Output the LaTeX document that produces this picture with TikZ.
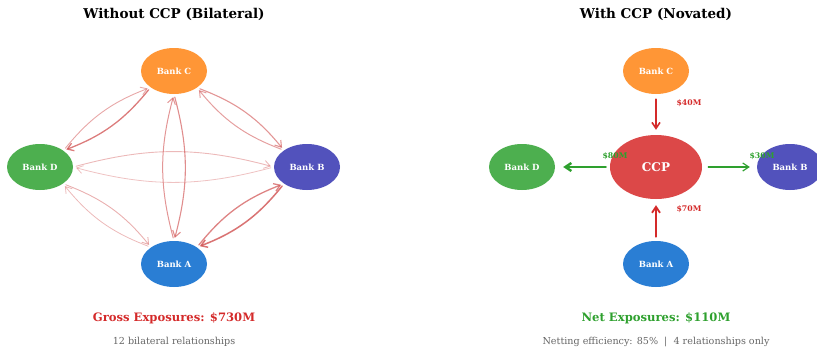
\documentclass[tikz,border=0pt]{standalone}
\usepackage{fontspec}
\setmainfont{DejaVu Serif}
\usetikzlibrary{arrows.meta,shapes.geometric}
\definecolor{bankA}{HTML}{2A7ED4}
\definecolor{bankB}{HTML}{5252BC}
\definecolor{bankC}{HTML}{FF9636}
\definecolor{bankD}{HTML}{4DAF4F}
\definecolor{ccpred}{HTML}{DC4848}
\definecolor{linkred}{HTML}{D05050}
\definecolor{flowred}{HTML}{D42A2A}
\definecolor{flowgreen}{HTML}{2EA02E}
\definecolor{note}{HTML}{666666}
\begin{document}
\begin{tikzpicture}[x=1pt,y=-1pt,>={Straight Barb[length=6pt,width=8pt]},line join=round,line cap=round,
		bank/.style={ellipse,minimum width=66pt,minimum height=46pt,inner sep=0pt,text=white,font=\fontsize{8.5}{10}\selectfont\bfseries},
		lens/.style={->,draw=linkred,bend left=15,shorten >=3pt,shorten <=3pt},
		amt/.style={font=\fontsize{7.8}{9}\selectfont\bfseries},
		head/.style={font=\fontsize{13.5}{16}\selectfont\bfseries},
		total/.style={font=\fontsize{11.6}{14}\selectfont\bfseries},
		sub/.style={text=note,font=\fontsize{9.6}{11}\selectfont}]
	\useasboundingbox (0,0) rectangle (817,348);
	% left: bilateral
	\node[head] (titleL) at (174,14) {Without CCP (Bilateral)};
	\foreach \n/\x/\y/\c in {C/174/71/bankC,D/40/167/bankD,B/307/167/bankB,A/174/264/bankA}
	\node[bank,fill=\c] (L\n) at (\x,\y) {Bank \n};
	\foreach \s/\a/\t/\b/\o/\w in {LC/215.6/LD/35.6/0.75/1.3,LD/35.6/LC/215.6/0.5/0.9,
		LC/324.2/LB/144.2/0.6/1.1,LB/144.2/LC/324.2/0.55/1.0,
		LD/0/LB/180/0.4/0.9,LB/180/LD/0/0.35/0.8,
		LC/270/LA/90/0.65/1.1,LA/90/LC/270/0.6/1.0,
		LD/324.1/LA/144.1/0.45/0.9,LA/144.1/LD/324.1/0.4/0.8,
		LB/216.1/LA/36.1/0.8/1.5,LA/36.1/LB/216.1/0.7/1.3}
	\draw[lens,draw opacity=\o,line width=\w] (\s.\a) to (\t.\b);
	\node[total,text=flowred] (grossL) at (174,318) {Gross Exposures: \$730M};
	\node[sub] (noteL) at (174,342) {12 bilateral relationships};
	% right: novated
	\node[head] (titleR) at (656,14) {With CCP (Novated)};
	\node[ellipse,fill=ccpred,minimum width=92pt,minimum height=64pt,inner sep=0pt,text=white,font=\fontsize{12}{14}\selectfont\bfseries] (ccp) at (656,167) {CCP};
	\foreach \n/\x/\y/\c in {C/656/71/bankC,D/522/167/bankD,B/790/167/bankB,A/656/264/bankA}
	\node[bank,fill=\c] (R\n) at (\x,\y) {Bank \n};
	\draw[->,flowred,line width=1.6,shorten <=5pt,shorten >=5pt] (RC) -- (ccp);
	\draw[->,flowred,line width=1.8,shorten <=4pt,shorten >=6pt] (RA) -- (ccp);
	\draw[->,flowgreen,line width=2.4,shorten <=4pt,shorten >=8pt] (ccp) -- (RD);
	\draw[->,flowgreen,line width=1.2,shorten <=6pt,shorten >=7pt] (ccp) -- (RB);
	\node[amt,text=flowred] (amtC) at (689,103) {\$40M};
	\node[amt,text=flowred] (amtA) at (689,209) {\$70M};
	\node[amt,text=flowgreen] (amtD) at (615,156) {\$80M};
	\node[amt,text=flowgreen] (amtB) at (762,156) {\$30M};
	\node[total,text=flowgreen] (netR) at (656,318) {Net Exposures: \$110M};
	\node[sub] (noteR) at (656,342) {Netting efficiency: 85\%\ \ |\ \ 4 relationships only};
\end{tikzpicture}
\end{document}
